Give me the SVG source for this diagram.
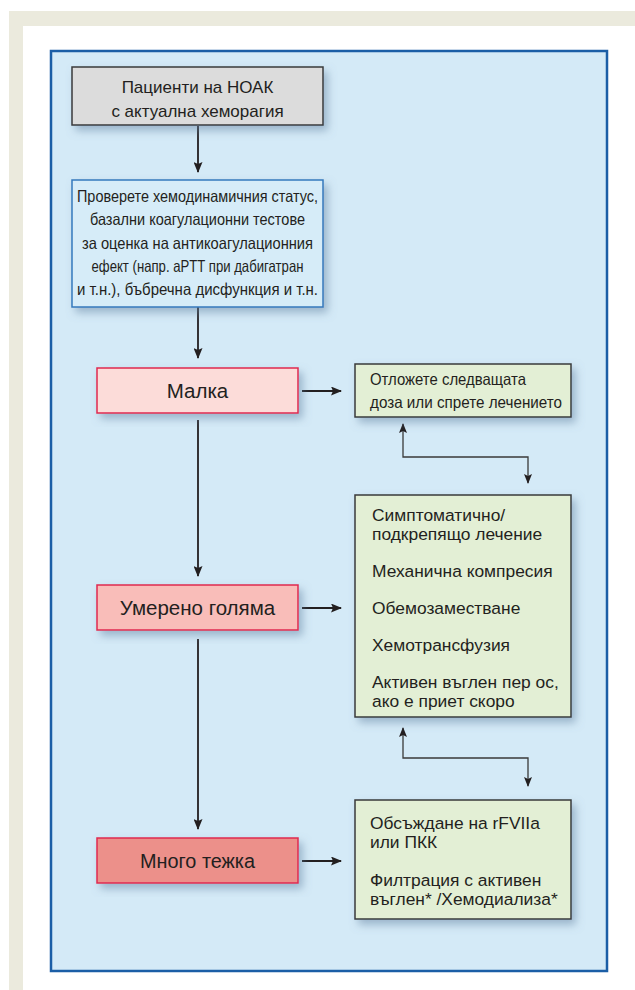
<svg xmlns="http://www.w3.org/2000/svg" width="635" height="990" viewBox="0 0 635 990">
<style>
text{font-family:"Liberation Sans",Arial,sans-serif;fill:#231f20}
.t17{font-size:17px}
.t16{font-size:16.5px}
.t15{font-size:16.5px}
.tr{font-size:20.5px}
.tg{font-size:17.4px}
.box{stroke-width:1.5}
.red{stroke:#e0284f}
.gray{fill:#dcdcdc;stroke:#3a3a3a}
.blue{fill:#d6ecf8;stroke:#3479bd}
.green{fill:#e3efd5;stroke:#3a3a3a}
.main{stroke:#231f20;stroke-width:1.8;fill:none}
.bi{stroke:#3a3a3a;stroke-width:1.3;fill:none}
</style>
<defs>
<filter id="sh" x="-20%" y="-20%" width="140%" height="150%">
<feDropShadow dx="4" dy="5" stdDeviation="4" flood-color="#5f7f9f" flood-opacity="0.5"/>
</filter>
<marker id="ah" markerWidth="11" markerHeight="9" refX="10" refY="4.5" orient="auto" markerUnits="userSpaceOnUse">
<path d="M0,0 L11,4.5 L0,9 L2,4.5 z" fill="#231f20"/>
</marker>
<marker id="ab" markerWidth="10" markerHeight="8" refX="9" refY="4" orient="auto" markerUnits="userSpaceOnUse">
<path d="M0,0 L10,4 L0,8 L2,4 z" fill="#231f20"/>
</marker>
<marker id="abs" markerWidth="10" markerHeight="8" refX="1" refY="4" orient="auto" markerUnits="userSpaceOnUse">
<path d="M10,0 L0,4 L10,8 L8,4 z" fill="#231f20"/>
</marker>
</defs>
<rect x="9" y="11" width="626" height="979" fill="#ebeadd"/>
<rect x="23" y="26" width="612" height="964" fill="#ffffff"/>
<rect x="51" y="51" width="556" height="920" fill="#d4eaf7" stroke="#1b5ea6" stroke-width="2.5"/>

<g id="connectors">
<line class="main" x1="198" y1="126" x2="198" y2="172" marker-end="url(#ah)"/>
<line class="main" x1="198" y1="307" x2="198" y2="358" marker-end="url(#ah)"/>
<line class="main" x1="198" y1="420" x2="198" y2="576" marker-end="url(#ah)"/>
<line class="main" x1="198" y1="639" x2="198" y2="829" marker-end="url(#ah)"/>
<line class="main" x1="302" y1="391" x2="341" y2="391" marker-end="url(#ah)"/>
<line class="main" x1="302" y1="608" x2="341" y2="608" marker-end="url(#ah)"/>
<line class="main" x1="302" y1="861" x2="341" y2="861" marker-end="url(#ah)"/>
<path class="bi" d="M403,424 V457 H528 V483" marker-start="url(#abs)" marker-end="url(#ab)"/>
<path class="bi" d="M403,728 V758 H528 V786" marker-start="url(#abs)" marker-end="url(#ab)"/>
</g>

<g id="n-patients">
<rect class="box gray" x="72" y="67" width="251" height="58" filter="url(#sh)"/>
<text class="t17" x="197.5" y="93" text-anchor="middle">Пациенти на НОАК</text>
<text class="t17" x="197.5" y="117" text-anchor="middle">с актуална хеморагия</text>
</g>

<g id="n-check">
<rect class="box blue" x="72" y="180" width="251" height="127" filter="url(#sh)"/>
<text class="t15" x="197.5" y="202" text-anchor="middle" textLength="241" lengthAdjust="spacingAndGlyphs">Проверете хемодинамичния статус,</text>
<text class="t15" x="197.5" y="225" text-anchor="middle" textLength="215" lengthAdjust="spacingAndGlyphs">базални коагулационни тестове</text>
<text class="t15" x="197.5" y="249" text-anchor="middle" textLength="231" lengthAdjust="spacingAndGlyphs">за оценка на антикоагулационния</text>
<text class="t15" x="197.5" y="272" text-anchor="middle" textLength="212" lengthAdjust="spacingAndGlyphs">ефект (напр. aPTT при дабигатран</text>
<text class="t15" x="197.5" y="295" text-anchor="middle" textLength="241" lengthAdjust="spacingAndGlyphs">и т.н.), бъбречна дисфункция и т.н.</text>
</g>

<g id="n-minor">
<rect class="box red" x="97" y="368" width="201" height="45" fill="#fcdcd9" filter="url(#sh)"/>
<text class="tr" x="197.5" y="398" text-anchor="middle">Малка</text>
</g>

<g id="n-moderate">
<rect class="box red" x="97" y="585" width="201" height="45" fill="#f9bdb9" filter="url(#sh)"/>
<text class="tr" x="197.5" y="615" text-anchor="middle">Умерено голяма</text>
</g>

<g id="n-severe">
<rect class="box red" x="97" y="838" width="201" height="45" fill="#ec908a" filter="url(#sh)"/>
<text class="tr" x="197.5" y="868" text-anchor="middle" textLength="115" lengthAdjust="spacingAndGlyphs">Много тежка</text>
</g>

<g id="n-delay">
<rect class="box green" x="355" y="364" width="216" height="53" filter="url(#sh)"/>
<text class="t16" x="370" y="385" textLength="156" lengthAdjust="spacingAndGlyphs">Отложете следващата</text>
<text class="t16" x="370" y="408" textLength="192" lengthAdjust="spacingAndGlyphs">доза или спрете лечението</text>
</g>

<g id="n-support">
<rect class="box green" x="355" y="495" width="216" height="222" filter="url(#sh)"/>
<text class="tg" x="372" y="521">Симптоматично/</text>
<text class="tg" x="372" y="540">подкрепящо лечение</text>
<text class="tg" x="372" y="577">Механична компресия</text>
<text class="tg" x="372" y="614">Обемозаместване</text>
<text class="tg" x="372" y="651">Хемотрансфузия</text>
<text class="tg" x="372" y="688">Активен въглен пер ос,</text>
<text class="tg" x="372" y="707">ако е приет скоро</text>
</g>

<g id="n-advanced">
<rect class="box green" x="355" y="800" width="216" height="119" filter="url(#sh)"/>
<text class="tg" x="370" y="829">Обсъждане на rFVIIa</text>
<text class="tg" x="370" y="848">или ПКК</text>
<text class="tg" x="370" y="886">Филтрация с активен</text>
<text class="tg" x="370" y="905">въглен* /Хемодиализа*</text>
</g>
</svg>
